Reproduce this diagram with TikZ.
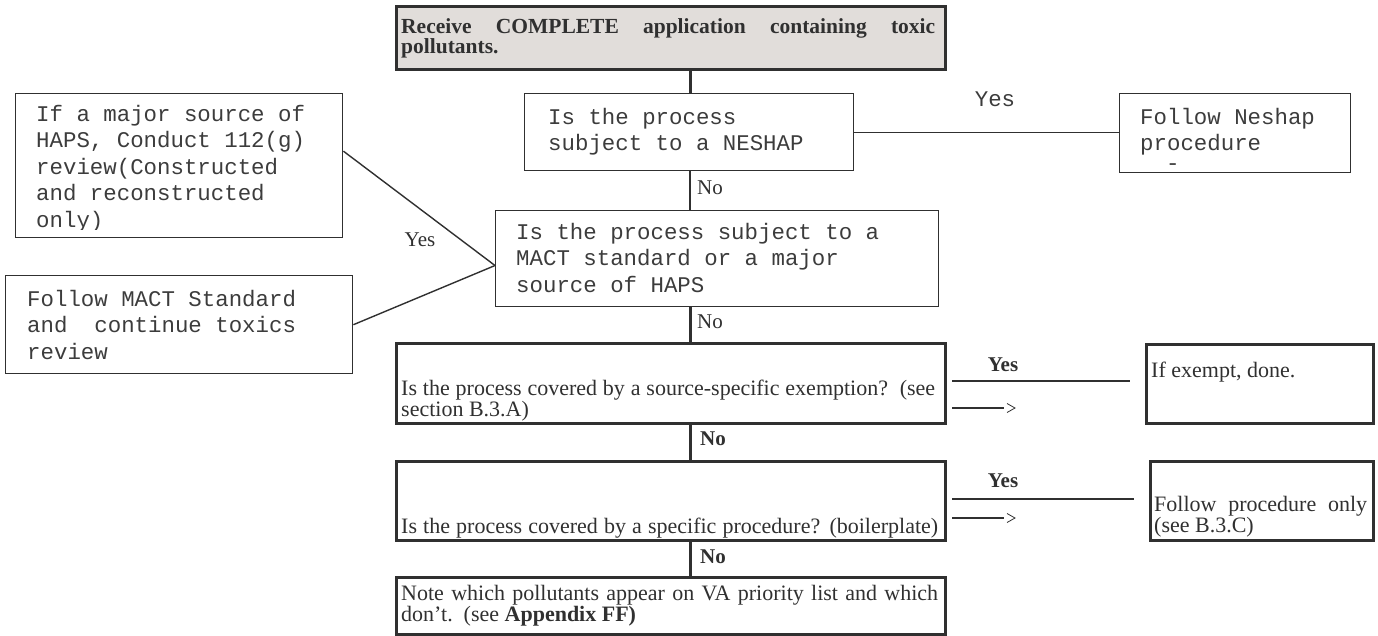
\documentclass[tikz,border=0pt]{standalone}
\usepackage{fontspec}
\setmainfont{Liberation Serif}
\newfontfamily\tnr{Liberation Serif}
\newfontfamily\mono{Liberation Mono}
\usetikzlibrary{calc}
\definecolor{ink}{HTML}{303030}
\definecolor{monoink}{HTML}{3C3C3C}
\definecolor{boxgray}{HTML}{E1DDDA}
\newcommand{\mtext}[2]{\parbox[t]{#1}{\raggedright\mono\fontsize{22.4}{26.6}\selectfont #2}}
\newcommand{\stext}[3]{\parbox[t]{#1}{\tnr\fontsize{22}{#2}\selectfont #3}}
\begin{document}
\begin{tikzpicture}[x=1pt,y=-1pt,
  thinbox/.style={draw=ink, line width=1.4pt, anchor=north west, inner sep=0pt},
  thickbox/.style={draw=ink, line width=3pt, anchor=north west, inner sep=0pt},
  txt/.style={anchor=base west, inner sep=0pt, text=ink},
  mtxt/.style={anchor=base west, inner sep=0pt, text=monoink},
  lbl/.style={anchor=base, inner sep=0pt, text=ink, font=\tnr\fontsize{21}{21}\selectfont},
  blbl/.style={lbl, font=\tnr\bfseries\fontsize{21}{21}\selectfont},
  mlbl/.style={anchor=base, inner sep=0pt, text=monoink, font=\mono\fontsize{22.4}{26.6}\selectfont},
  thinline/.style={draw=ink, line width=1.4pt},
  midline/.style={draw=ink, line width=2.4pt},
  thickline/.style={draw=ink, line width=3pt},
]
\useasboundingbox (0,0) rectangle (1378,635);
\coordinate (spine) at (690,0);

% boxes
\node[thickbox, fill=boxgray, minimum width=549pt, minimum height=63pt] (start) at (395,5) {};
\node[thinbox, minimum width=329pt, minimum height=77pt] (neshap) at (524,93) {};
\node[thinbox, minimum width=231pt, minimum height=79pt] (nproc) at (1119,93) {};
\node[thinbox, minimum width=443pt, minimum height=96pt] (mact) at (495,210) {};
\node[thinbox, minimum width=327pt, minimum height=144pt] (haps) at (15,93) {};
\node[thinbox, minimum width=347pt, minimum height=98pt] (mstd) at (5,275) {};
\node[thickbox, minimum width=549pt, minimum height=80pt] (exempt) at (395,342) {};
\node[thickbox, minimum width=227pt, minimum height=79pt] (done) at (1145,343) {};
\node[thickbox, minimum width=549pt, minimum height=79pt] (boiler) at (395,460) {};
\node[thickbox, minimum width=223pt, minimum height=79pt] (proc) at (1149,460) {};
\node[thickbox, minimum width=549pt, minimum height=57pt] (note) at (395,576) {};

% texts
\node[txt] (tstart) at (401,33) {\parbox[t]{534pt}{\tnr\bfseries\fontsize{21.5}{14}\selectfont Receive COMPLETE application containing toxic\linebreak pollutants.}};
\node[mtxt] (tneshap) at (548,124) {\mtext{300pt}{Is the process\\subject to a NESHAP}};
\node[mtxt] (tnproc) at (1140,124) {\mtext{200pt}{Follow Neshap\\procedure}};
\node[mtxt] (tdash) at (1166,170) {\mono\fontsize{22.4}{26.6}\selectfont -};
\node[mtxt] (tmact) at (516,239) {\mtext{420pt}{Is the process subject to a\\MACT standard or a major\\source of HAPS}};
\begin{scope}
  \clip (15,93) rectangle (342,229);
  \node[mtxt] (thaps) at (36,121) {\mtext{300pt}{If a major source of\\HAPS, Conduct 112(g)\\review(Constructed\\and reconstructed\\only)}};
\end{scope}
\node[mtxt] (tmstd) at (27,306) {\mtext{320pt}{Follow MACT Standard\\and\ \ continue toxics\\review}};
\node[txt] (texempt) at (401,395) {\stext{534pt}{14}{Is the process covered by a source-specific exemption?\ \ (see\linebreak section B.3.A)}};
\node[txt] (tdone) at (1151,377) {\tnr\fontsize{22}{22}\selectfont If exempt, done.};
\node[txt] (tboiler) at (401,533) {\tnr\fontsize{22}{22}\selectfont\makebox[537pt][s]{Is the process covered by a specific procedure? (boilerplate)}};
\node[txt] (tproc) at (1154,511) {\stext{213pt}{14}{Follow procedure only\linebreak (see B.3.C)}};
\node[txt] (tnote) at (401,600) {\stext{537pt}{15}{Note which pollutants appear on VA priority list and which\linebreak don’t.\ \ (see \textbf{Appendix FF)}}};

% labels
\node[mlbl] (yes1) at (995,106) {Yes};
\node[lbl, anchor=base west] (no1) at (697,194) {No};
\node[lbl] (yes2) at (420,246) {Yes};
\node[lbl, anchor=base west] (no2) at (697,328) {No};
\node[blbl] (yes3) at (1003,371) {Yes};
\node[blbl, anchor=base west] (no3) at (700,445) {No};
\node[blbl] (yes4) at (1003,487) {Yes};
\node[blbl, anchor=base west] (no4) at (700,563) {No};

% connectors
\draw[thickline] (start.south -| spine) -- (neshap.north -| spine);
\draw[thinline] (neshap.east) -- (neshap.east -| nproc.west);
\draw[midline] (neshap.south -| spine) -- (mact.north -| spine);
\draw[thinline] ($(haps.north east)!0.4!(haps.south east)$) -- ($(mact.north west)!0.57!(mact.south west)$);
\draw[thinline] (mstd.east) -- ($(mact.north west)!0.57!(mact.south west)$);
\draw[thickline] (mact.south -| spine) -- (exempt.north -| spine);
\draw[thickline] (exempt.south -| spine) -- (boiler.north -| spine);
\draw[thickline] (boiler.south -| spine) -- (note.north -| spine);

% yes lines and arrows
\draw[midline] ($(exempt.north east)+(5,39)$) -- ($(done.north west)+(-15,38)$);
\coordinate (a1) at ($(exempt.north east)+(5,66)$);
\draw[midline] (a1) -- ++(52,0);
\draw[draw=ink, line width=0.8pt] ($(a1)+(55,-4.5)$) -- ($(a1)+(63,0)$) -- ($(a1)+(55,4.5)$);
\draw[midline] ($(boiler.north east)+(5,39)$) -- ($(proc.north west)+(-15,39)$);
\coordinate (a2) at ($(boiler.north east)+(5,58)$);
\draw[midline] (a2) -- ++(52,0);
\draw[draw=ink, line width=0.8pt] ($(a2)+(55,-4.5)$) -- ($(a2)+(63,0)$) -- ($(a2)+(55,4.5)$);
\end{tikzpicture}
\end{document}
